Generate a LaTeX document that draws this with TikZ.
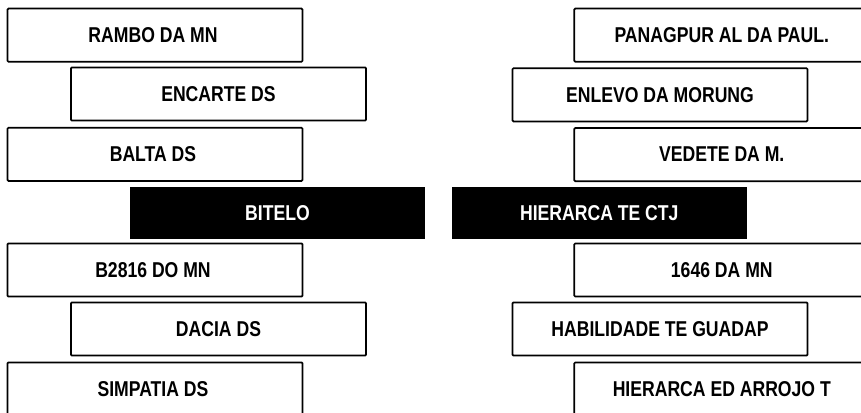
\documentclass[tikz,border=0pt]{standalone}
\usepackage{fontspec}
\newfontfamily\boxfont{Liberation Sans}[FakeStretch=0.82]
\begin{document}
\begin{tikzpicture}[x=0.75pt,y=-0.75pt,
  whitebox/.style={draw=black, line width=1.3pt, fill=white, rounded corners=0.8pt,
    minimum width=221.25pt, minimum height=39.9pt, inner sep=0pt,
    font=\boxfont\bfseries\fontsize{16.1pt}{18pt}\selectfont, text=black},
  blackbox/.style={draw=none, fill=black,
    minimum width=221.25pt, minimum height=39.5pt, inner sep=0pt,
    font=\boxfont\bfseries\fontsize{16.1pt}{18pt}\selectfont, text=white}]
\useasboundingbox (0,0) rectangle (861,413);
\clip (0,0) rectangle (861,413);
% left column
\node[whitebox] (l1) at (155,35.2) {\hspace*{-3pt}RAMBO DA MN};
\node[whitebox] (l2) at (218.5,94) {ENCARTE DS};
\node[whitebox] (l3) at (155,154.3) {\hspace*{-3pt}BALTA DS};
\node[whitebox] (l5) at (155,270) {\hspace*{-3pt}B2816 DO MN};
\node[whitebox] (l6) at (218.5,329) {DACIA DS};
\node[whitebox] (l7) at (155,389) {\hspace*{-3pt}SIMPATIA DS};
% right column
\node[whitebox] (r1) at (721.8,35.2) {PANAGPUR AL DA PAUL.};
\node[whitebox] (r2) at (660,94.8) {ENLEVO DA MORUNG};
\node[whitebox] (r3) at (721.8,154.6) {VEDETE DA M.};
\node[whitebox] (r5) at (721.8,270) {1646 DA MN};
\node[whitebox] (r6) at (660,329) {HABILIDADE TE GUADAP};
\node[whitebox] (r7) at (721.8,389) {HIERARCA ED ARROJO T};
% middle black bars
\node[blackbox] (c1) at (277.5,213) {BITELO};
\node[blackbox] (c2) at (599.3,213) {HIERARCA TE CTJ};
\end{tikzpicture}
\end{document}
